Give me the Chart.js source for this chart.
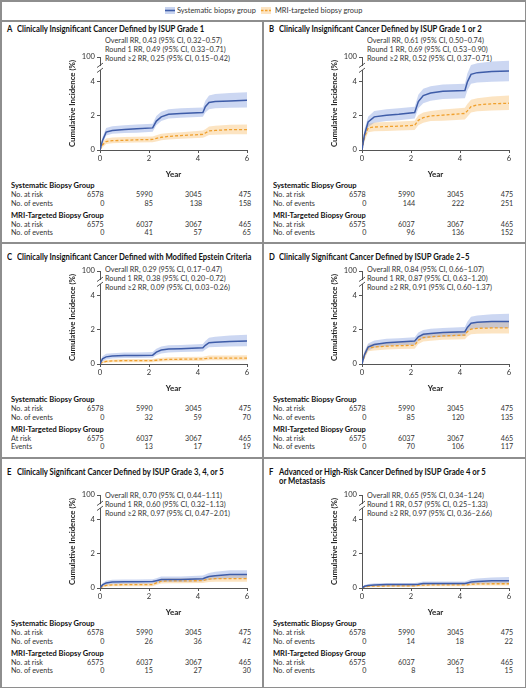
<!DOCTYPE html>
<html><head><meta charset="utf-8">
<script src="https://cdn.jsdelivr.net/npm/chart.js@4.4.1/dist/chart.umd.min.js"></script>
<style>
html,body{margin:0;padding:0;background:#fff;}
#fig{position:relative;width:526px;height:688px;overflow:hidden;background:#fff;}
.ln{position:absolute;background:#8e8e8e;}
.t{position:absolute;white-space:nowrap;}
canvas{position:absolute;}
</style></head><body><div id="fig"></div>
<script>
// ---------------- DATA ----------------
const years = [0, 0.1, 0.25, 0.5, 1, 1.5, 2.15, 2.3, 2.5, 2.8, 3.3, 4.2, 4.3, 4.45, 4.7, 5.3, 6];
const riskYears = [0, 2, 4, 6];
const sysAtRisk = [6578, 5990, 3045, 475];
const mriAtRisk = [6575, 6037, 3067, 465];

const aSys   = [0, 0.55, 1.05, 1.15, 1.2, 1.25, 1.3, 1.7, 1.95, 2.1, 2.15, 2.2, 2.55, 2.8, 2.85, 2.88, 2.92];
const aSysLo = [0, 0.35, 0.85, 0.95, 1.0, 1.02, 1.07, 1.45, 1.7, 1.85, 1.9, 1.95, 2.2, 2.4, 2.45, 2.48, 2.5];
const aSysHi = [0, 0.75, 1.3, 1.4, 1.45, 1.5, 1.55, 2.0, 2.25, 2.4, 2.45, 2.5, 2.9, 3.2, 3.3, 3.35, 3.4];
const aMri   = [0, 0.3, 0.5, 0.55, 0.57, 0.6, 0.62, 0.68, 0.75, 0.8, 0.85, 0.92, 1.0, 1.12, 1.15, 1.2, 1.2];
const aMriLo = [0, 0.15, 0.35, 0.4, 0.42, 0.44, 0.46, 0.5, 0.57, 0.62, 0.66, 0.72, 0.78, 0.88, 0.9, 0.93, 0.93];
const aMriHi = [0, 0.45, 0.68, 0.73, 0.76, 0.78, 0.8, 0.87, 0.95, 1.0, 1.05, 1.14, 1.22, 1.38, 1.42, 1.48, 1.5];

const bSys   = [0, 0.9, 1.65, 1.95, 2.05, 2.1, 2.2, 2.85, 3.2, 3.35, 3.45, 3.5, 4.0, 4.45, 4.55, 4.62, 4.65];
const bSysLo = [0, 0.6, 1.35, 1.6, 1.7, 1.75, 1.85, 2.45, 2.75, 2.9, 3.0, 3.05, 3.5, 3.9, 3.97, 4.02, 4.05];
const bSysHi = [0, 1.2, 1.95, 2.3, 2.4, 2.45, 2.55, 3.25, 3.6, 3.75, 3.85, 3.9, 4.5, 5.0, 5.1, 5.2, 5.25];
const bMri   = [0, 0.75, 1.3, 1.35, 1.38, 1.4, 1.45, 1.75, 1.9, 2.0, 2.05, 2.15, 2.3, 2.55, 2.65, 2.72, 2.75];
const bMriLo = [0, 0.5, 1.05, 1.1, 1.12, 1.15, 1.18, 1.45, 1.6, 1.7, 1.72, 1.8, 1.95, 2.2, 2.28, 2.33, 2.35];
const bMriHi = [0, 1.0, 1.55, 1.62, 1.65, 1.68, 1.72, 2.05, 2.2, 2.3, 2.38, 2.48, 2.7, 2.95, 3.05, 3.15, 3.2];

const cSys   = [0, 0.3, 0.42, 0.47, 0.5, 0.5, 0.52, 0.7, 0.82, 0.88, 0.9, 0.95, 1.1, 1.25, 1.28, 1.33, 1.35];
const cSysLo = [0, 0.15, 0.27, 0.32, 0.35, 0.35, 0.37, 0.52, 0.62, 0.68, 0.7, 0.73, 0.85, 0.98, 1.0, 1.03, 1.05];
const cSysHi = [0, 0.45, 0.6, 0.63, 0.67, 0.68, 0.7, 0.9, 1.03, 1.1, 1.12, 1.17, 1.35, 1.55, 1.6, 1.68, 1.72];
const cMri   = [0, 0.1, 0.15, 0.18, 0.2, 0.2, 0.2, 0.22, 0.25, 0.27, 0.28, 0.3, 0.32, 0.35, 0.35, 0.35, 0.35];
const cMriLo = [0, 0.04, 0.08, 0.1, 0.11, 0.11, 0.11, 0.13, 0.15, 0.16, 0.17, 0.18, 0.2, 0.22, 0.22, 0.22, 0.22];
const cMriHi = [0, 0.18, 0.24, 0.27, 0.3, 0.3, 0.3, 0.33, 0.37, 0.4, 0.41, 0.43, 0.46, 0.5, 0.5, 0.5, 0.52];

const dSys   = [0, 0.55, 1.0, 1.15, 1.25, 1.3, 1.35, 1.6, 1.75, 1.8, 1.85, 1.9, 2.15, 2.4, 2.45, 2.5, 2.5];
const dSysLo = [0, 0.35, 0.8, 0.95, 1.05, 1.1, 1.12, 1.38, 1.5, 1.55, 1.6, 1.65, 1.88, 2.05, 2.1, 2.12, 2.12];
const dSysHi = [0, 0.75, 1.2, 1.38, 1.48, 1.52, 1.58, 1.85, 2.0, 2.08, 2.12, 2.18, 2.48, 2.78, 2.85, 2.92, 2.95];
const dMri   = [0, 0.5, 0.95, 1.0, 1.05, 1.08, 1.1, 1.4, 1.55, 1.6, 1.65, 1.7, 1.9, 2.05, 2.1, 2.12, 2.12];
const dMriLo = [0, 0.3, 0.75, 0.8, 0.85, 0.88, 0.9, 1.18, 1.32, 1.37, 1.42, 1.45, 1.62, 1.75, 1.78, 1.8, 1.8];
const dMriHi = [0, 0.7, 1.15, 1.2, 1.25, 1.28, 1.32, 1.62, 1.78, 1.83, 1.88, 1.95, 2.18, 2.35, 2.42, 2.48, 2.5];

const eSys   = [0, 0.18, 0.3, 0.35, 0.37, 0.37, 0.38, 0.43, 0.5, 0.5, 0.5, 0.55, 0.6, 0.67, 0.72, 0.8, 0.8];
const eSysLo = [0, 0.08, 0.18, 0.22, 0.25, 0.25, 0.26, 0.3, 0.35, 0.36, 0.36, 0.4, 0.43, 0.48, 0.52, 0.57, 0.57];
const eSysHi = [0, 0.28, 0.43, 0.48, 0.5, 0.5, 0.52, 0.58, 0.67, 0.68, 0.68, 0.73, 0.8, 0.88, 0.95, 1.05, 1.05];
const eMri   = [0, 0.08, 0.15, 0.18, 0.2, 0.2, 0.2, 0.3, 0.4, 0.42, 0.42, 0.43, 0.48, 0.52, 0.55, 0.55, 0.55];
const eMriLo = [0, 0.03, 0.08, 0.1, 0.11, 0.11, 0.11, 0.18, 0.26, 0.28, 0.28, 0.29, 0.32, 0.35, 0.37, 0.37, 0.37];
const eMriHi = [0, 0.14, 0.23, 0.27, 0.29, 0.29, 0.29, 0.42, 0.54, 0.57, 0.57, 0.58, 0.64, 0.7, 0.74, 0.75, 0.75];

const fSys   = [0, 0.1, 0.15, 0.18, 0.2, 0.2, 0.2, 0.22, 0.27, 0.27, 0.27, 0.27, 0.3, 0.35, 0.38, 0.42, 0.42];
const fSysLo = [0, 0.04, 0.08, 0.1, 0.11, 0.11, 0.11, 0.13, 0.17, 0.17, 0.17, 0.17, 0.19, 0.23, 0.25, 0.27, 0.27];
const fSysHi = [0, 0.17, 0.24, 0.28, 0.3, 0.3, 0.3, 0.32, 0.38, 0.38, 0.38, 0.38, 0.43, 0.52, 0.56, 0.62, 0.64];
const fMri   = [0, 0.06, 0.1, 0.11, 0.12, 0.12, 0.12, 0.15, 0.17, 0.18, 0.18, 0.18, 0.19, 0.22, 0.24, 0.25, 0.25];
const fMriLo = [0, 0.02, 0.04, 0.05, 0.06, 0.06, 0.06, 0.08, 0.09, 0.1, 0.1, 0.1, 0.11, 0.13, 0.14, 0.15, 0.15];
const fMriHi = [0, 0.11, 0.16, 0.18, 0.19, 0.19, 0.19, 0.23, 0.26, 0.27, 0.27, 0.27, 0.29, 0.33, 0.36, 0.38, 0.4];

const aSysEvents = [0, 85, 138, 158], aMriEvents = [0, 41, 57, 65];
const bSysEvents = [0, 144, 222, 251], bMriEvents = [0, 96, 136, 152];
const cSysEvents = [0, 32, 59, 70], cMriEvents = [0, 13, 17, 19];
const dSysEvents = [0, 85, 120, 135], dMriEvents = [0, 70, 106, 117];
const eSysEvents = [0, 26, 36, 42], eMriEvents = [0, 15, 27, 30];
const fSysEvents = [0, 14, 18, 22], fMriEvents = [0, 8, 13, 15];

const letters = ['A', 'B', 'C', 'D', 'E', 'F'];
const titles = [
  ['Clinically Insignificant Cancer Defined by ISUP Grade 1'],
  ['Clinically Insignificant Cancer Defined by ISUP Grade 1 or 2'],
  ['Clinically Insignificant Cancer Defined with Modified Epstein Criteria'],
  ['Clinically Significant Cancer Defined by ISUP Grade 2\u20135'],
  ['Clinically Significant Cancer Defined by ISUP Grade 3, 4, or 5'],
  ['Advanced or High-Risk Cancer Defined by ISUP Grade 4 or 5', 'or Metastasis']
];
const rrTexts = [
  ['Overall RR, 0.43 (95% CI, 0.32\u20130.57)', 'Round 1 RR, 0.49 (95% CI, 0.33\u20130.71)', 'Round \u22652 RR, 0.25 (95% CI, 0.15\u20130.42)'],
  ['Overall RR, 0.61 (95% CI, 0.50\u20130.74)', 'Round 1 RR, 0.69 (95% CI, 0.53\u20130.90)', 'Round \u22652 RR, 0.52 (95% CI, 0.37\u20130.71)'],
  ['Overall RR, 0.29 (95% CI, 0.17\u20130.47)', 'Round 1 RR, 0.38 (95% CI, 0.20\u20130.72)', 'Round \u22652 RR, 0.09 (95% CI, 0.03\u20130.26)'],
  ['Overall RR, 0.84 (95% CI, 0.66\u20131.07)', 'Round 1 RR, 0.87 (95% CI, 0.63\u20131.20)', 'Round \u22652 RR, 0.91 (95% CI, 0.60\u20131.37)'],
  ['Overall RR, 0.70 (95% CI, 0.44\u20131.11)', 'Round 1 RR, 0.60 (95% CI, 0.32\u20131.13)', 'Round \u22652 RR, 0.97 (95% CI, 0.47\u20132.01)'],
  ['Overall RR, 0.65 (95% CI, 0.34\u20131.24)', 'Round 1 RR, 0.57 (95% CI, 0.25\u20131.33)', 'Round \u22652 RR, 0.97 (95% CI, 0.36\u20132.66)']
];
const yTickValues = [0, 2, 4];
const yTopLabel = '100';
const legendLabels = ['Systematic biopsy group', 'MRI-targeted biopsy group'];

// ---------------- LAYOUT ----------------
const FONT = 'Lato, "Liberation Sans", "DejaVu Sans", sans-serif';
const BLUE = 'rgb(62,92,168)', BLUE_BAND = 'rgba(120,150,222,0.38)';
const ORANGE = 'rgb(240,160,45)', ORANGE_BAND = 'rgba(248,190,110,0.42)';
const YTOP = 5.47, BRK = 4.82;

const fig = document.getElementById('fig');
const mctx = document.createElement('canvas').getContext('2d');
function fit(str, size, weight, target) {
  mctx.font = weight + ' ' + size + 'px ' + FONT;
  return target / mctx.measureText(str).width;
}
const ST = {
  title: {size: 9, weight: 700},
  rr: {size: 7.6, weight: 400},
  grp: {size: 8, weight: 700},
  row: {size: 7.6, weight: 400},
  leg: {size: 8, weight: 400}
};
ST.title.sx = fit(titles[0][0], 9, 700, 188);
ST.rr.sx = fit(rrTexts[0][0], 7.6, 400, 117);
ST.grp.sx = fit('MRI-Targeted Biopsy Group', 8, 700, 93);
ST.row.sx = fit('No. of events', 7.6, 400, 42);
ST.leg.sx = fit(legendLabels[0], 8, 400, 79);

function txt(s, x, y, st, align, color) {
  const d = document.createElement('div');
  d.className = 't';
  d.textContent = s;
  d.style.font = st.weight + ' ' + st.size + 'px ' + FONT;
  d.style.lineHeight = '1';
  d.style.color = color || '#222';
  d.style.top = (y - st.size * 0.58) + 'px';
  let tr = 'scaleX(' + st.sx + ')';
  if (align === 'right') { d.style.right = (526 - x) + 'px'; d.style.transformOrigin = '100% 50%'; }
  else if (align === 'center') { d.style.left = x + 'px'; d.style.transformOrigin = '0 50%'; tr += ' translateX(-50%)'; }
  else { d.style.left = x + 'px'; d.style.transformOrigin = '0 50%'; }
  d.style.transform = tr;
  fig.appendChild(d);
  return d;
}
function line(x, y, w, h) {
  const d = document.createElement('div');
  d.className = 'ln';
  Object.assign(d.style, {left: x + 'px', top: y + 'px', width: w + 'px', height: h + 'px'});
  fig.appendChild(d);
}
// frame
line(0, 0, 526, 1.5); line(0, 686.5, 526, 1.5); line(0, 0, 1.5, 688); line(524.5, 0, 1.5, 688);
line(0, 20, 526, 1.5); line(262, 20, 1.5, 668); line(0, 242, 526, 1.5); line(0, 457, 526, 1.5);

// legend
function legIcon(x, color, dashed, band) {
  const c = document.createElement('canvas');
  c.width = 10; c.height = 7;
  c.style.left = x + 'px'; c.style.top = '7px';
  const g = c.getContext('2d');
  g.fillStyle = band; g.fillRect(0, 0, 10, 7);
  g.strokeStyle = color; g.lineWidth = 1.6;
  if (dashed) g.setLineDash([2.5, 1.5]);
  g.beginPath(); g.moveTo(0, 3.5); g.lineTo(10, 3.5); g.stroke();
  fig.appendChild(c);
}
legIcon(165, BLUE, false, 'rgb(200,212,240)');
txt(legendLabels[0], 177, 10.5, ST.leg, 'left', '#333');
legIcon(261, ORANGE, true, 'rgb(252,228,195)');
txt(legendLabels[1], 275, 10.5, ST.leg, 'left', '#333');

const panels = [
  {sys: aSys, sysLo: aSysLo, sysHi: aSysHi, mri: aMri, mriLo: aMriLo, mriHi: aMriHi, se: aSysEvents, me: aMriEvents},
  {sys: bSys, sysLo: bSysLo, sysHi: bSysHi, mri: bMri, mriLo: bMriLo, mriHi: bMriHi, se: bSysEvents, me: bMriEvents},
  {sys: cSys, sysLo: cSysLo, sysHi: cSysHi, mri: cMri, mriLo: cMriLo, mriHi: cMriHi, se: cSysEvents, me: cMriEvents},
  {sys: dSys, sysLo: dSysLo, sysHi: dSysHi, mri: dMri, mriLo: dMriLo, mriHi: dMriHi, se: dSysEvents, me: dMriEvents},
  {sys: eSys, sysLo: eSysLo, sysHi: eSysHi, mri: eMri, mriLo: eMriLo, mriHi: eMriHi, se: eSysEvents, me: eMriEvents},
  {sys: fSys, sysLo: fSysLo, sysHi: fSysHi, mri: fMri, mriLo: fMriLo, mriHi: fMriHi, se: fSysEvents, me: fMriEvents}
];
const rowDy = [0, 214, 438];
const titleY = [29.5, 257, 472];
const rrY = [[41.5, 50.3, 59], [270, 279, 288], [496.5, 505.3, 514]];
const riskLabels = [['No. at risk', 'No. of events'], ['No. at risk', 'No. of events'], ['At risk', 'Events']];

const pts = (ys) => years.map((x, i) => ({x: x, y: ys[i]}));

const breakPlugin = {
  id: 'axisBreak',
  afterDraw(chart) {
    const ctx = chart.ctx, y = chart.scales.y;
    const xa = chart.chartArea.left, yb = y.getPixelForValue(BRK);
    ctx.save();
    ctx.fillStyle = '#fff';
    ctx.fillRect(xa - 1.5, yb - 2, 3, 4);
    ctx.strokeStyle = '#444'; ctx.lineWidth = 0.9;
    ctx.beginPath();
    ctx.moveTo(xa - 3, yb - 0.5); ctx.lineTo(xa + 3, yb - 5);
    ctx.moveTo(xa - 3, yb + 4.5); ctx.lineTo(xa + 3, yb);
    ctx.stroke();
    ctx.restore();
  }
};

panels.forEach((p, i) => {
  const col = i % 2, row = Math.floor(i / 2);
  const ox = col * 262, dy = rowDy[row];
  // title
  txt(letters[i], ox + 7, titleY[row], ST.title, 'left', '#111');
  titles[i].forEach((t, k) => txt(t, ox + 17, titleY[row] + k * 9.5, ST.title, 'left', '#111'));
  rrTexts[i].forEach((t, k) => txt(t, ox + 105, rrY[row][k], ST.rr, 'left', '#333'));

  const cv = document.createElement('canvas');
  cv.width = 262; cv.height = 129;
  cv.style.left = ox + 'px'; cv.style.top = (50 + dy) + 'px';
  cv.style.width = '262px'; cv.style.height = '129px';
  fig.appendChild(cv);
  const base = {pointRadius: 0, tension: 0, fill: false};
  const chart = new Chart(cv, {
    type: 'line',
    data: {datasets: [
      Object.assign({}, base, {data: pts(p.sys), borderColor: BLUE, borderWidth: 1.5, order: 0}),
      Object.assign({}, base, {data: pts(p.mri), borderColor: ORANGE, borderWidth: 1.3, borderDash: [3, 2], order: 1}),
      Object.assign({}, base, {data: pts(p.sysLo), borderWidth: 0, borderColor: 'rgba(0,0,0,0)', order: 2}),
      Object.assign({}, base, {data: pts(p.sysHi), borderWidth: 0, borderColor: 'rgba(0,0,0,0)', fill: '-1', backgroundColor: BLUE_BAND, order: 2}),
      Object.assign({}, base, {data: pts(p.mriLo), borderWidth: 0, borderColor: 'rgba(0,0,0,0)', order: 3}),
      Object.assign({}, base, {data: pts(p.mriHi), borderWidth: 0, borderColor: 'rgba(0,0,0,0)', fill: '-1', backgroundColor: ORANGE_BAND, order: 3})
    ]},
    options: {
      responsive: false, animation: false, devicePixelRatio: 1,
      parsing: true,
      layout: {padding: {left: 68, top: 7, right: 15, bottom: 0}},
      plugins: {legend: {display: false}, tooltip: {enabled: false}},
      scales: {
        x: {
          type: 'linear', min: 0, max: 6,
          ticks: {stepSize: 2, color: '#333', padding: 1, font: {size: 7.6, family: FONT}},
          grid: {drawOnChartArea: false, drawTicks: true, tickLength: 3, tickColor: '#555'},
          border: {display: true, color: '#555', width: 1},
          title: {display: true, text: 'Year', color: '#222', padding: 0, font: {size: 8, weight: 'bold', family: FONT}},
          afterFit: (s) => { s.height = 29; }
        },
        y: {
          type: 'linear', min: 0, max: YTOP,
          afterBuildTicks: (s) => { s.ticks = yTickValues.concat([YTOP]).map(v => ({value: v})); },
          ticks: {color: '#333', padding: 2, font: {size: 7.6, family: FONT},
                  callback: (v) => v === YTOP ? yTopLabel : String(v)},
          grid: {drawOnChartArea: false, drawTicks: true, tickLength: 3, tickColor: '#555'},
          border: {display: true, color: '#555', width: 1},
          title: {display: true, text: 'Cumulative Incidence (%)', color: '#222', padding: 0, font: {size: 7.8, weight: 'bold', family: FONT}},
          afterFit: (s) => { s.width = 32; }
        }
      }
    },
    plugins: [breakPlugin]
  });

  // risk table
  const xs = chart.scales.x;
  const lx = ox + 11;
  txt('Systematic Biopsy Group', lx, 186 + dy, ST.grp, 'left', '#111');
  txt(riskLabels[row === 1 && col === 0 ? 1 : 0][0], lx, 195 + dy, ST.row, 'left', '#333');
  txt(riskLabels[0][1], lx, 204 + dy, ST.row, 'left', '#333');
  txt('MRI-Targeted Biopsy Group', lx, 216 + dy, ST.grp, 'left', '#111');
  const ml = (row === 1 && col === 0) ? riskLabels[2] : riskLabels[0];
  txt(ml[0], lx, 225 + dy, ST.row, 'left', '#333');
  txt(ml[1], lx, 233.5 + dy, ST.row, 'left', '#333');
  riskYears.forEach((yr, k) => {
    const px = ox + xs.getPixelForValue(yr) + 4;
    txt(String(sysAtRisk[k]), px, 195 + dy, ST.row, 'right', '#333');
    txt(String(p.se[k]), px, 204 + dy, ST.row, 'right', '#333');
    txt(String(mriAtRisk[k]), px, 225 + dy, ST.row, 'right', '#333');
    txt(String(p.me[k]), px, 233.5 + dy, ST.row, 'right', '#333');
  });
});
</script></body></html>
